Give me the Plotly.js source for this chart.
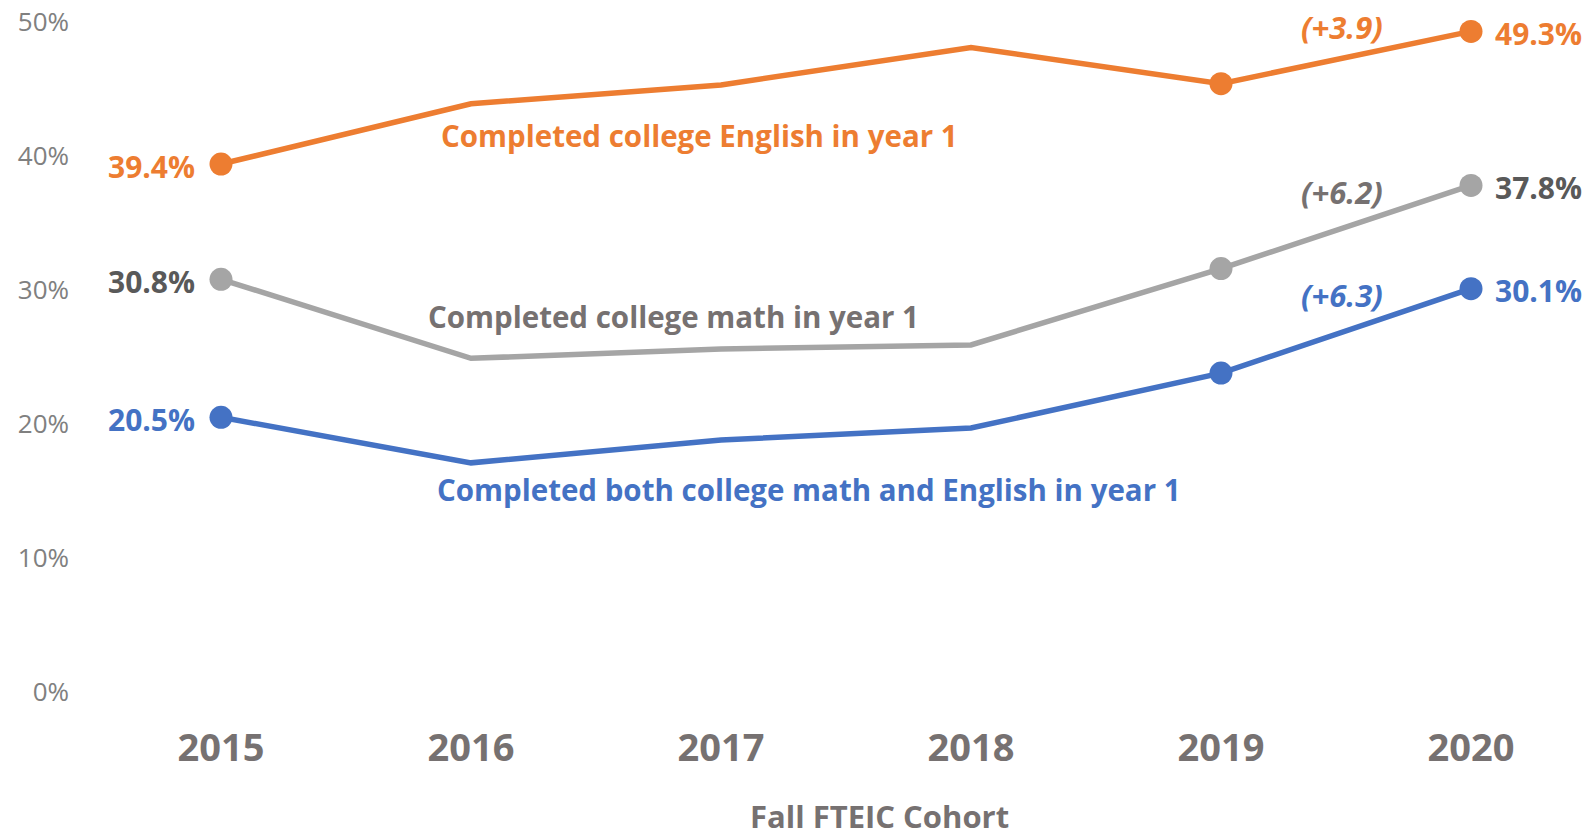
<!DOCTYPE html>
<html>
<head>
<meta charset="utf-8">
<script src="https://cdn.plot.ly/plotly-3.0.1.min.js"></script>
<style>html,body{margin:0;padding:0;background:#fff;}#chart{width:1592px;height:838px;}</style>
</head>
<body>
<div id="chart"></div>
<script>
const cohorts = ["2015", "2016", "2017", "2018", "2019", "2020"];
const english = [39.4, 43.9, 45.3, 48.1, 45.4, 49.3];
const math = [30.8, 24.9, 25.6, 25.9, 31.6, 37.8];
const both = [20.5, 17.1, 18.8, 19.7, 23.8, 30.1];
const seriesNames = ["Completed college English in year 1", "Completed college math in year 1", "Completed both college math and English in year 1"];
const changes = ["(+3.9)", "(+6.2)", "(+6.3)"];
const markedCohorts = ["2015", "2019", "2020"];
const yTicks = [0, 10, 20, 30, 40, 50];

const FONT = "Open Sans, Noto Sans, sans-serif";
const series = [english, math, both];
const lineColors = ["#ED7D31", "#A5A5A5", "#4472C4"];
const labelColors = ["#ED7D31", "#595959", "#4472C4"];
const nameColors = ["#ED7D31", "#767171", "#4472C4"];
const changeColors = ["#ED7D31", "#767171", "#4472C4"];
const nameX = [0.872, 0.82, 0.856];
const nameY = [41.5, 28.0, 15.1];
const changeY = [49.6, 37.3, 29.6];

const markerSizes = cohorts.map(c => markedCohorts.includes(c) ? 23 : 0);

const traces = series.map((vals, i) => ({
  x: cohorts.map((c, k) => k),
  y: vals,
  type: "scatter",
  mode: "lines+markers",
  line: {color: lineColors[i], width: 5.5},
  marker: {color: lineColors[i], size: markerSizes, opacity: 1, line: {width: 0}},
  hoverinfo: "skip",
  showlegend: false,
  cliponaxis: false
}));

const annotations = [];
series.forEach((vals, i) => {
  const last = vals.length - 1;
  annotations.push({x: 0, y: vals[0], xref: "x", yref: "y", text: vals[0].toFixed(1) + "%", showarrow: false,
    xanchor: "right", yanchor: "middle", xshift: -24, yshift: -2,
    font: {family: FONT, size: 30, color: labelColors[i], weight: 700}});
  annotations.push({x: last, y: vals[last], xref: "x", yref: "y", text: vals[last].toFixed(1) + "%", showarrow: false,
    xanchor: "left", yanchor: "middle", xshift: 22, yshift: -2,
    font: {family: FONT, size: 30, color: labelColors[i], weight: 700}});
  annotations.push({x: 4.484, y: changeY[i], xref: "x", yref: "y", text: "<i>" + changes[i] + "</i>", showarrow: false,
    xanchor: "center", yanchor: "middle",
    font: {family: FONT, size: 31, color: changeColors[i], weight: 700}});
  annotations.push({x: nameX[i], y: nameY[i], xref: "x", yref: "y", text: seriesNames[i], showarrow: false,
    xanchor: "left", yanchor: "middle",
    font: {family: FONT, size: 29.5, color: nameColors[i], weight: 700}});
});
annotations.push({x: 0.524, y: 0, xref: "paper", yref: "paper", text: "Fall FTEIC Cohort", showarrow: false,
  xanchor: "center", yanchor: "middle", yshift: -124,
  font: {family: FONT, size: 31, color: "#767171", weight: 700}});

const layout = {
  width: 1592, height: 838,
  margin: {l: 96, r: 0, t: 22, b: 146, pad: 0},
  paper_bgcolor: "#ffffff", plot_bgcolor: "#ffffff",
  xaxis: {
    range: [-0.5, 5.484], tickmode: "array", tickvals: cohorts.map((c, k) => k), ticktext: cohorts,
    showgrid: false, zeroline: false, showline: false, ticks: "",
    ticklabelstandoff: 30,
    tickfont: {family: FONT, size: 38, color: "#767171", weight: 700}
  },
  yaxis: {
    range: [0, 50], tickmode: "array", tickvals: yTicks, ticktext: yTicks.map(v => v + "%"),
    showgrid: false, zeroline: false, showline: false, ticks: "",
    ticklabelstandoff: 26,
    tickfont: {family: FONT, size: 26, color: "#808080"}
  },
  annotations: annotations,
  showlegend: false
};

Plotly.newPlot("chart", traces, layout, {staticPlot: true, displayModeBar: false});
</script>
</body>
</html>
